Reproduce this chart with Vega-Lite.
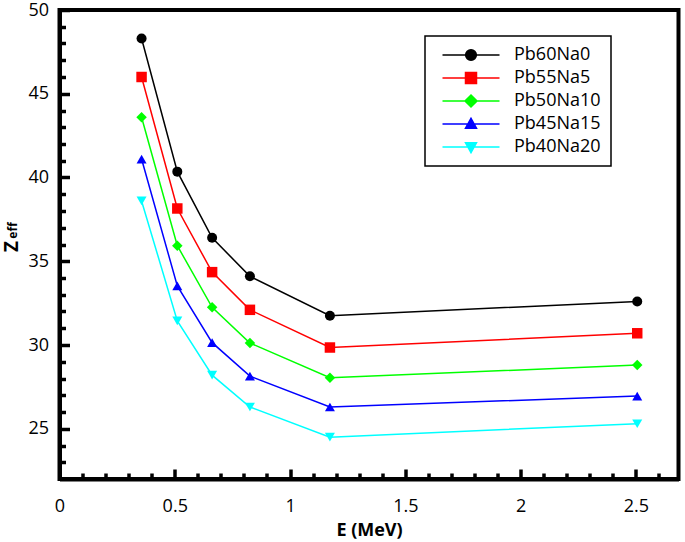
{
  "$schema": "https://vega.github.io/schema/vega-lite/v6.json",
  "width": 619,
  "height": 469,
  "autosize": {"type": "none"},
  "padding": {"left": 59.5, "top": 10, "right": 6.5, "bottom": 63},
  "background": "white",
  "view": {"stroke": "black", "strokeWidth": 4},
  "data": {"values": [
    {"E": 0.356, "Z": 48.3, "series": "Pb60Na0"},
    {"E": 0.511, "Z": 40.35, "series": "Pb60Na0"},
    {"E": 0.662, "Z": 36.4, "series": "Pb60Na0"},
    {"E": 0.826, "Z": 34.1, "series": "Pb60Na0"},
    {"E": 1.173, "Z": 31.75, "series": "Pb60Na0"},
    {"E": 2.506, "Z": 32.6, "series": "Pb60Na0"},
    {"E": 0.356, "Z": 46.0, "series": "Pb55Na5"},
    {"E": 0.511, "Z": 38.15, "series": "Pb55Na5"},
    {"E": 0.662, "Z": 34.35, "series": "Pb55Na5"},
    {"E": 0.826, "Z": 32.1, "series": "Pb55Na5"},
    {"E": 1.173, "Z": 29.85, "series": "Pb55Na5"},
    {"E": 2.506, "Z": 30.7, "series": "Pb55Na5"},
    {"E": 0.356, "Z": 43.6, "series": "Pb50Na10"},
    {"E": 0.511, "Z": 35.93, "series": "Pb50Na10"},
    {"E": 0.662, "Z": 32.25, "series": "Pb50Na10"},
    {"E": 0.826, "Z": 30.12, "series": "Pb50Na10"},
    {"E": 1.173, "Z": 28.05, "series": "Pb50Na10"},
    {"E": 2.506, "Z": 28.8, "series": "Pb50Na10"},
    {"E": 0.356, "Z": 41.1, "series": "Pb45Na15"},
    {"E": 0.511, "Z": 33.53, "series": "Pb45Na15"},
    {"E": 0.662, "Z": 30.14, "series": "Pb45Na15"},
    {"E": 0.826, "Z": 28.14, "series": "Pb45Na15"},
    {"E": 1.173, "Z": 26.3, "series": "Pb45Na15"},
    {"E": 2.506, "Z": 26.95, "series": "Pb45Na15"},
    {"E": 0.356, "Z": 38.6, "series": "Pb40Na20"},
    {"E": 0.511, "Z": 31.44, "series": "Pb40Na20"},
    {"E": 0.662, "Z": 28.2, "series": "Pb40Na20"},
    {"E": 0.826, "Z": 26.3, "series": "Pb40Na20"},
    {"E": 1.173, "Z": 24.5, "series": "Pb40Na20"},
    {"E": 2.506, "Z": 25.3, "series": "Pb40Na20"}
  ]},
  "encoding": {
    "x": {"field": "E", "type": "quantitative", "scale": {"domain": [0, 2.685], "nice": false, "zero": false}},
    "y": {"field": "Z", "type": "quantitative", "scale": {"domain": [22, 50], "nice": false, "zero": false}},
    "color": {"field": "series", "type": "nominal",
      "scale": {"domain": ["Pb60Na0", "Pb55Na5", "Pb50Na10", "Pb45Na15", "Pb40Na20"], "range": ["#000000", "#ff0000", "#00ff00", "#0000ff", "#00ffff"]},
      "legend": {"orient": "none", "legendX": 365.5, "legendY": 26, "title": null,
        "encode": {"symbols": {"update": {"stroke": {"scale": "color", "field": "value"}, "strokeWidth": {"value": 1.5}}}}}}
  },
  "layer": [
    {
      "mark": {"type": "line", "strokeWidth": 1.5},
      "encoding": {
        "x": {"field": "E", "type": "quantitative",
          "axis": {"orient": "bottom", "values": [0, 0.5, 1, 1.5, 2, 2.5], "format": "~g", "grid": false, "zindex": 1,
            "tickSize": -10, "tickWidth": 3.5, "tickColor": "black", "domain": true, "domainWidth": 4, "domainColor": "black",
            "labelFlush": false, "labelPadding": 28, "labelFont": "Open Sans", "labelFontSize": 18, "labelColor": "black",
            "title": "E (MeV)", "titleFont": "Open Sans", "titleFontSize": 18, "titleFontWeight": "bold", "titleColor": "black",
            "titleBaseline": "alphabetic", "titleY": 56}},
        "y": {"field": "Z", "type": "quantitative",
          "axis": {"orient": "left", "values": [25, 30, 35, 40, 45, 50], "format": "~g", "grid": false, "zindex": 1,
            "tickSize": -10, "tickWidth": 3.5, "tickColor": "black", "domain": true, "domainWidth": 4, "domainColor": "black",
            "labelFlush": false, "labelPadding": 21, "labelFont": "Open Sans", "labelFontSize": 18, "labelColor": "black",
            "title": "Z", "titleFont": "Open Sans", "titleFontSize": 19, "titleFontWeight": "bold", "titleColor": "black",
            "titleBaseline": "alphabetic", "titleAngle": -90, "titleX": -42.5, "titleY": 236}}
      }
    },
    {
      "transform": [{"filter": "datum.series == 'Pb60Na0'"}],
      "mark": {"type": "point", "shape": "circle", "filled": true, "opacity": 1, "size": 100},
      "encoding": {"x": {"field": "E", "type": "quantitative", "axis": null}, "y": {"field": "Z", "type": "quantitative", "axis": null}}
    },
    {
      "transform": [{"filter": "datum.series == 'Pb55Na5'"}],
      "mark": {"type": "point", "shape": "square", "filled": true, "opacity": 1, "size": 110},
      "encoding": {"x": {"field": "E", "type": "quantitative", "axis": null}, "y": {"field": "Z", "type": "quantitative", "axis": null}}
    },
    {
      "transform": [{"filter": "datum.series == 'Pb50Na10'"}],
      "mark": {"type": "point", "shape": "diamond", "filled": true, "opacity": 1, "size": 110},
      "encoding": {"x": {"field": "E", "type": "quantitative", "axis": null}, "y": {"field": "Z", "type": "quantitative", "axis": null}}
    },
    {
      "transform": [{"filter": "datum.series == 'Pb45Na15'"}],
      "mark": {"type": "point", "shape": "triangle-up", "filled": true, "opacity": 1, "size": 100},
      "encoding": {"x": {"field": "E", "type": "quantitative", "axis": null}, "y": {"field": "Z", "type": "quantitative", "axis": null}}
    },
    {
      "transform": [{"filter": "datum.series == 'Pb40Na20'"}],
      "mark": {"type": "point", "shape": "triangle-down", "filled": true, "opacity": 1, "size": 100},
      "encoding": {"x": {"field": "E", "type": "quantitative", "axis": null}, "y": {"field": "Z", "type": "quantitative", "axis": null}}
    },
    {
      "transform": [{"filter": "false"}],
      "mark": {"type": "point", "filled": true, "opacity": 1, "size": 100, "strokeWidth": 1.5},
      "encoding": {
        "x": {"field": "E", "type": "quantitative",
          "axis": {"orient": "bottom", "values": [0.1,0.2,0.3,0.4,0.6,0.7,0.8,0.9,1.1,1.2,1.3,1.4,1.6,1.7,1.8,1.9,2.1,2.2,2.3,2.4,2.6], "labels": false, "domain": false, "grid": false, "tickSize": -6, "tickWidth": 3.5, "tickColor": "black", "title": null}},
        "y": {"field": "Z", "type": "quantitative",
          "axis": {"orient": "left", "values": [23,24,26,27,28,29,31,32,33,34,36,37,38,39,41,42,43,44,46,47,48,49], "labels": false, "domain": false, "grid": false, "tickSize": -6, "tickWidth": 3.5, "tickColor": "black",
            "title": "eff", "titleFont": "Open Sans", "titleFontSize": 12, "titleFontWeight": "bold", "titleColor": "black",
            "titleBaseline": "alphabetic", "titleAngle": -90, "titleX": -43.5, "titleY": 220}},
        "shape": {"field": "series", "type": "nominal",
          "scale": {"domain": ["Pb60Na0", "Pb55Na5", "Pb50Na10", "Pb45Na15", "Pb40Na20"],
            "range": [
              "M-5.7,0H5.7M1.07,0A1.07,1.07,0,1,1,-1.07,0A1.07,1.07,0,1,1,1.07,0Z",
              "M-5.7,0H5.7M-1.1,-1.1H1.1V1.1H-1.1Z",
              "M-5.7,0H5.7M0,-1.2L1.2,0L0,1.2L-1.2,0Z",
              "M-5.7,0H5.7M0,-1.15L1.1,0.85L-1.1,0.85Z",
              "M-5.7,0H5.7M0,1.15L1.1,-0.85L-1.1,-0.85Z"
            ]},
          "legend": {"orient": "none", "legendX": 365.5, "legendY": 26, "title": null,
            "encode": {"symbols": {"update": {"stroke": {"scale": "color", "field": "value"}, "strokeWidth": {"value": 1.5}}}}}}
      }
    }
  ],
  "resolve": {"axis": {"x": "independent", "y": "independent"}},
  "config": {
    "legend": {
      "labelFont": "Open Sans", "labelFontSize": 18, "labelColor": "black",
      "strokeColor": "black", "strokeWidth": 1.5, "fillColor": "white",
      "padding": 10, "rowPadding": 5, "symbolSize": 100, "symbolStrokeWidth": 1.5,
      "symbolOffset": 27, "labelOffset": 34
    }
  }
}
